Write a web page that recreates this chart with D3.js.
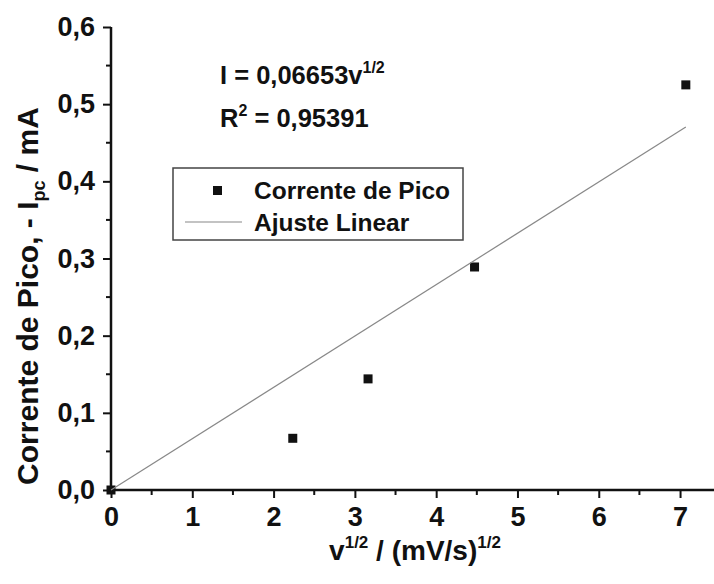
<!DOCTYPE html>
<html><head><meta charset="utf-8">
<script src="https://cdn.jsdelivr.net/npm/d3@7"></script>
<style>body{margin:0;background:#fff}svg{display:block}text{font-family:"Liberation Sans",Arial,sans-serif;fill:#111}</style>
</head><body><svg id="c" width="714" height="584"></svg>
<script>
const xValues = [0, 2.236, 3.162, 4.472, 7.071];
const yValues = [0, 0.067, 0.144, 0.289, 0.525];
const slope = 0.06653;
const fitRange = [0, 7.071];
const xTicks = [0,1,2,3,4,5,6,7];
const yTicks = [0,0.1,0.2,0.3,0.4,0.5,0.6];
const legendLabels = ["Corrente de Pico", "Ajuste Linear"];

const svg = d3.select("#c");
const x = d3.scaleLinear().domain([0, 7.5]).range([111, 720.7]);
const y = d3.scaleLinear().domain([0, 0.6]).range([490, 27]);
const fmt = d => d3.format(".1f")(d).replace(".", ",");

// points (drawn under axes)
svg.append("g").selectAll("rect").data(xValues.map((d, i) => [d, yValues[i]])).join("rect")
  .attr("x", d => x(d[0]) - 4.5).attr("y", d => y(d[1]) - 4.5)
  .attr("width", 9).attr("height", 9).attr("fill", "#111");

// minor ticks
const xMinor = d3.range(0.5, 7.6, 1);
const yMinor = d3.range(0.05, 0.6, 0.1);
svg.append("g").selectAll("line").data(xMinor).join("line")
  .attr("x1", d => x(d)).attr("x2", d => x(d)).attr("y1", 490).attr("y2", 495)
  .attr("stroke", "#111").attr("stroke-width", 2);
svg.append("g").selectAll("line").data(yMinor).join("line")
  .attr("y1", d => y(d)).attr("y2", d => y(d)).attr("x1", 111).attr("x2", 106)
  .attr("stroke", "#111").attr("stroke-width", 2);

const xa = svg.append("g").attr("transform", "translate(0,490)")
  .call(d3.axisBottom(x).tickValues(xTicks).tickSize(8).tickPadding(9).tickFormat(d3.format("d")));
const ya = svg.append("g").attr("transform", "translate(111,0)")
  .call(d3.axisLeft(y).tickValues(yTicks).tickSize(8).tickPadding(8).tickFormat(fmt));
[xa, ya].forEach(a => {
  a.select(".domain").attr("stroke", "#111").attr("stroke-width", 2.5);
  a.selectAll(".tick line").attr("stroke", "#111").attr("stroke-width", 2);
  a.selectAll(".tick text").attr("font-size", 27).attr("font-weight", "bold").attr("fill", "#111")
    .style("font-family", "'Liberation Sans', Arial, sans-serif");
});
xa.select(".domain").attr("d", `M${x(0)},0H714`);
ya.select(".domain").attr("d", `M0,${y(0)}V${y(0.6)}`);

// fit line
svg.append("line")
  .attr("x1", x(fitRange[0])).attr("y1", y(slope * fitRange[0]))
  .attr("x2", x(fitRange[1])).attr("y2", y(slope * fitRange[1]))
  .attr("stroke", "#888").attr("stroke-width", 1.2);

// equation
const eq = svg.append("text").attr("x", 220).attr("y", 84).attr("font-size", 25.5).attr("font-weight", "bold");
eq.append("tspan").text("I = 0,06653v");
eq.append("tspan").attr("font-size", 16).attr("dy", -11).text("1/2");
const r2 = svg.append("text").attr("x", 220).attr("y", 127).attr("font-size", 25.5).attr("font-weight", "bold");
r2.append("tspan").text("R");
r2.append("tspan").attr("font-size", 16).attr("dy", -11).text("2");
r2.append("tspan").attr("dy", 11).text(" = 0,95391");

// legend
svg.append("rect").attr("x", 173).attr("y", 168).attr("width", 290).attr("height", 72)
  .attr("fill", "none").attr("stroke", "#444").attr("stroke-width", 1.5);
svg.append("rect").attr("x", 213).attr("y", 186).attr("width", 9).attr("height", 9).attr("fill", "#111");
svg.append("line").attr("x1", 185).attr("x2", 242).attr("y1", 222).attr("y2", 222).attr("stroke", "#888").attr("stroke-width", 1.2);
svg.append("text").attr("x", 254).attr("y", 199).attr("font-size", 24.5).attr("font-weight", "bold").text(legendLabels[0]);
svg.append("text").attr("x", 254).attr("y", 231).attr("font-size", 24.5).attr("font-weight", "bold").text(legendLabels[1]);

// y title
const yt = svg.append("text").attr("transform", "translate(38,296) rotate(-90)").attr("text-anchor", "middle")
  .attr("font-size", 30).attr("font-weight", "bold");
yt.append("tspan").text("Corrente de Pico, - I");
yt.append("tspan").attr("font-size", 18).attr("dy", 7).text("pc");
yt.append("tspan").attr("dy", -7).text(" / mA");

// x title
const xt = svg.append("text").attr("x", 415).attr("y", 560).attr("text-anchor", "middle")
  .attr("font-size", 28).attr("font-weight", "bold");
xt.append("tspan").text("v");
xt.append("tspan").attr("font-size", 17).attr("dy", -12).text("1/2");
xt.append("tspan").attr("dy", 12).text(" / (mV/s)");
xt.append("tspan").attr("font-size", 17).attr("dy", -12).text("1/2");
</script></body></html>
